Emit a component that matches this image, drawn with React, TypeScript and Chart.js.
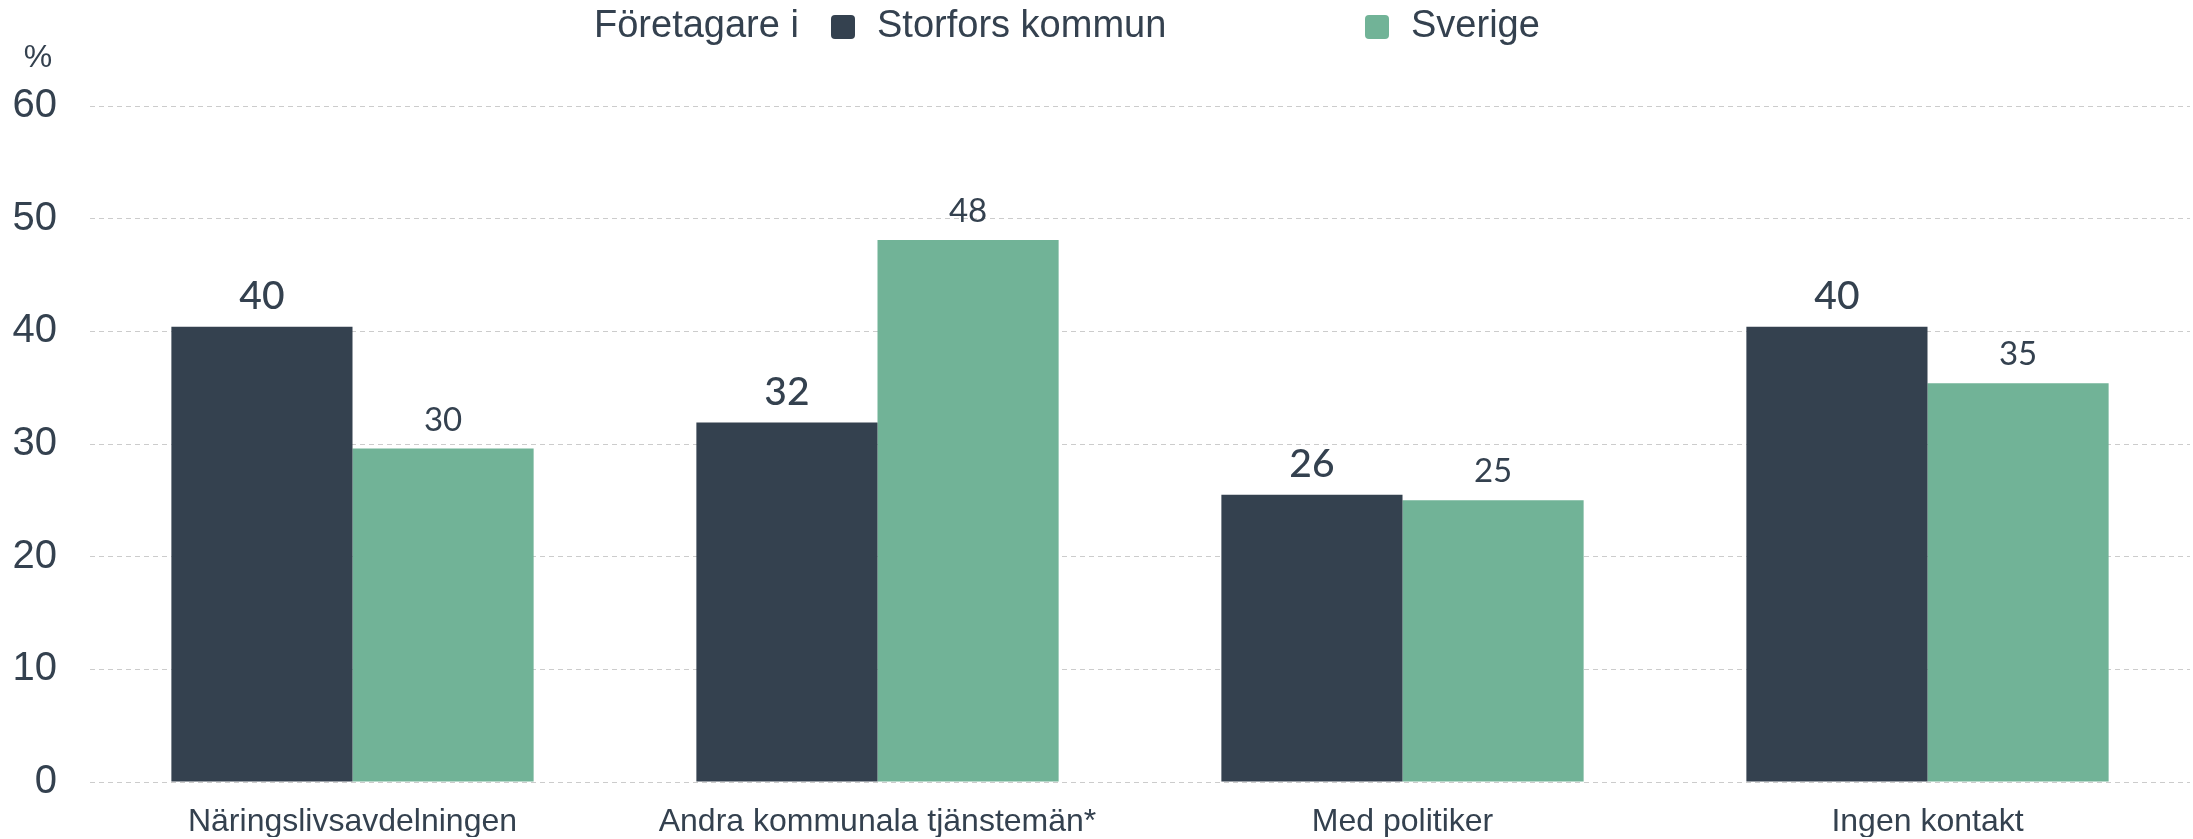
import React, { useEffect, useRef } from "react";
import { Chart, registerables } from "chart.js";

Chart.register(...registerables);

const categories = ["Näringslivsavdelningen", "Andra kommunala tjänstemän*", "Med politiker", "Ingen kontakt"];
const storforsValues = [40.4, 31.9, 25.5, 40.4];
const sverigeValues = [29.6, 48.1, 25.0, 35.4];
const seriesNames = ["Storfors kommun", "Sverige"];
const legendPrefix = "Företagare i";
const yUnit = "%";
const yTicks = [0, 10, 20, 30, 40, 50, 60];

const DARK = "#34414f";
const GREEN = "#71b397";
const TEXT = "#34414f";
const GRID = "#cccccc";
const SANS = "'Liberation Sans', Arial, sans-serif";

const labelsPlugin = {
  id: "customLabels",
  afterDatasetsDraw(chart: any) {
    const ctx = chart.ctx;
    ctx.save();
    chart.data.datasets.forEach((ds: any, di: number) => {
      const meta = chart.getDatasetMeta(di);
      meta.data.forEach((bar: any, i: number) => {
        const v = ds.data[i];
        ctx.fillStyle = TEXT;
        ctx.textAlign = "center";
        ctx.textBaseline = "alphabetic";
        ctx.font = di === 0 ? "500 39px Lato, sans-serif" : "33px Lato, sans-serif";
        ctx.fillText(String(Math.round(v)), bar.x, bar.y - 18);
      });
    });
    ctx.restore();
  },
  afterDraw(chart: any) {
    const ctx = chart.ctx;
    ctx.save();
    ctx.fillStyle = TEXT;
    ctx.textBaseline = "middle";
    ctx.textAlign = "center";
    ctx.font = `32px ${SANS}`;
    ctx.fillText(yUnit, 38, 58);
    ctx.textAlign = "left";
    ctx.font = `38px ${SANS}`;
    ctx.fillText(legendPrefix, 594, 27);
    const positions = [831, 1365];
    chart.data.datasets.forEach((ds: any, di: number) => {
      const x = positions[di];
      ctx.fillStyle = ds.backgroundColor;
      ctx.beginPath();
      (ctx as any).roundRect(x, 15, 24, 24, 4);
      ctx.fill();
      ctx.fillStyle = TEXT;
      ctx.fillText(ds.label, x + 46, 27);
    });
    ctx.restore();
  },
};

export default function App() {
  const ref = useRef<HTMLCanvasElement | null>(null);
  useEffect(() => {
    document.body.style.margin = "0";
    const chart = new Chart(ref.current as HTMLCanvasElement, {
      type: "bar",
      data: {
        labels: categories,
        datasets: [
          { label: seriesNames[0], data: storforsValues, backgroundColor: DARK, categoryPercentage: 0.69, barPercentage: 1.0 },
          { label: seriesNames[1], data: sverigeValues, backgroundColor: GREEN, categoryPercentage: 0.69, barPercentage: 1.0 },
        ],
      },
      options: {
        responsive: false,
        animation: false,
        layout: { padding: { top: 106, right: 3, bottom: 0, left: 0 } },
        plugins: { legend: { display: false }, tooltip: { enabled: false } },
        scales: {
          x: {
            grid: { display: false },
            border: { display: false },
            afterFit: (scale: any) => {
              scale.height = 55;
            },
            ticks: { color: TEXT, font: { family: SANS, size: 32 }, padding: 13, maxRotation: 0 },
          },
          y: {
            min: 0,
            max: 60,
            afterBuildTicks: (scale: any) => {
              scale.ticks = yTicks.map((v) => ({ value: v }));
            },
            afterFit: (scale: any) => {
              scale.width = 90;
            },
            grid: { color: GRID, lineWidth: 1, drawTicks: false, tickBorderDash: [5, 4] },
            border: { display: false, dash: [5, 4] },
            ticks: { color: TEXT, font: { family: SANS, size: 40 }, padding: 33 },
          },
        },
      },
      plugins: [labelsPlugin],
    });
    return () => chart.destroy();
  }, []);
  return (
    <div style={{ width: 2193, height: 839 }}>
      <canvas ref={ref} width={2193} height={839} />
    </div>
  );
}
